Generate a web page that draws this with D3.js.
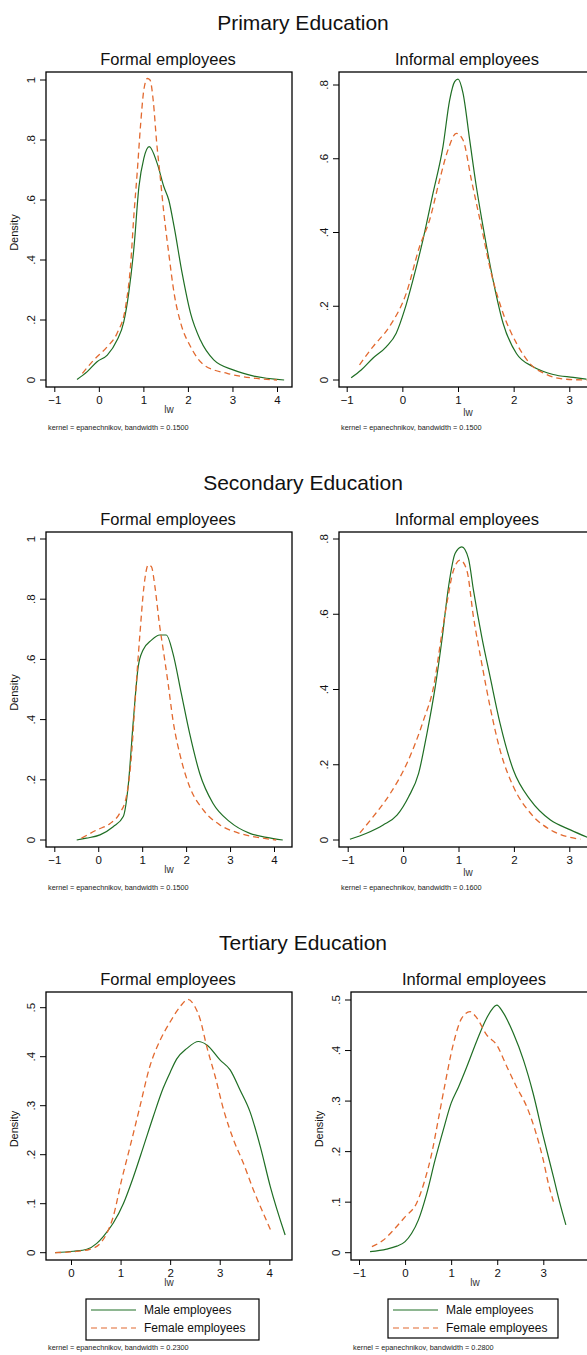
<!DOCTYPE html>
<html><head><meta charset="utf-8">
<script src="https://cdn.jsdelivr.net/npm/d3@7/dist/d3.min.js"></script>
<style>body{margin:0;background:#fff}svg{display:block;font-family:"Liberation Sans",Arial,sans-serif}</style>
</head><body>
<script>
// ---- data (lw, density) ----
const priFormalMale = [[-0.49,0.002],[-0.26,0.028],[-0.04,0.061],[0.19,0.083],[0.41,0.133],[0.56,0.194],[0.67,0.289],[0.79,0.444],[0.9,0.644],[1.01,0.739],[1.13,0.778],[1.31,0.722],[1.46,0.644],[1.57,0.6],[1.69,0.511],[1.87,0.356],[2.06,0.222],[2.28,0.133],[2.58,0.067],[3.03,0.033],[3.48,0.013],[4.16,0.0]];
const priFormalFemale = [[-0.37,0.022],[-0.11,0.067],[0.19,0.111],[0.41,0.156],[0.6,0.244],[0.71,0.378],[0.79,0.556],[0.86,0.689],[0.94,0.856],[1.01,0.967],[1.09,1.005],[1.15,1.0],[1.22,0.933],[1.3,0.789],[1.37,0.689],[1.46,0.556],[1.57,0.422],[1.69,0.289],[1.84,0.189],[2.06,0.111],[2.36,0.05],[2.88,0.022],[3.48,0.006],[4.0,0.0]];
const priInformalMale = [[-0.92,0.006],[-0.74,0.027],[-0.53,0.059],[-0.29,0.09],[-0.11,0.127],[0.04,0.19],[0.19,0.271],[0.37,0.38],[0.55,0.506],[0.73,0.633],[0.85,0.759],[0.94,0.809],[1.0,0.816],[1.09,0.778],[1.21,0.651],[1.33,0.524],[1.45,0.416],[1.63,0.271],[1.81,0.154],[2.05,0.072],[2.35,0.036],[2.71,0.015],[3.07,0.007],[3.31,0.002]];
const priInformalFemale = [[-0.77,0.041],[-0.53,0.09],[-0.23,0.145],[0.07,0.235],[0.31,0.362],[0.49,0.434],[0.67,0.543],[0.82,0.624],[0.97,0.669],[1.09,0.651],[1.24,0.543],[1.42,0.416],[1.57,0.307],[1.81,0.181],[2.05,0.1],[2.29,0.045],[2.59,0.015],[2.95,0.002],[3.31,0.0]];
const secFormalMale = [[-0.49,0.0],[-0.27,0.006],[0.04,0.017],[0.34,0.044],[0.57,0.078],[0.68,0.177],[0.8,0.399],[0.91,0.576],[1.02,0.631],[1.21,0.664],[1.4,0.681],[1.55,0.681],[1.7,0.62],[1.89,0.487],[2.08,0.354],[2.31,0.221],[2.61,0.122],[2.99,0.061],[3.45,0.022],[3.83,0.009],[4.2,0.0]];
const secFormalFemale = [[-0.38,0.006],[-0.04,0.033],[0.27,0.055],[0.49,0.089],[0.64,0.144],[0.76,0.288],[0.83,0.443],[0.95,0.687],[1.04,0.842],[1.14,0.914],[1.21,0.908],[1.29,0.842],[1.39,0.72],[1.48,0.631],[1.59,0.52],[1.7,0.399],[1.89,0.266],[2.08,0.177],[2.39,0.1],[2.77,0.05],[3.22,0.022],[3.75,0.006],[4.05,0.0]];
const secInformalMale = [[-0.96,0.002],[-0.66,0.018],[-0.36,0.04],[-0.11,0.066],[0.1,0.115],[0.28,0.177],[0.43,0.283],[0.58,0.407],[0.7,0.531],[0.82,0.673],[0.94,0.762],[1.06,0.779],[1.18,0.748],[1.27,0.664],[1.42,0.54],[1.57,0.434],[1.75,0.31],[1.99,0.186],[2.3,0.106],[2.66,0.053],[3.02,0.027],[3.33,0.007]];
const secInformalFemale = [[-0.78,0.019],[-0.54,0.062],[-0.23,0.124],[0.07,0.204],[0.37,0.319],[0.55,0.407],[0.7,0.549],[0.79,0.629],[0.91,0.717],[1.03,0.744],[1.15,0.717],[1.27,0.593],[1.42,0.469],[1.57,0.354],[1.75,0.239],[1.99,0.142],[2.3,0.071],[2.66,0.027],[2.96,0.009],[3.2,0.002]];
const terFormalMale = [[-0.32,0.0],[0.05,0.003],[0.32,0.007],[0.52,0.019],[0.65,0.033],[0.85,0.06],[1.06,0.101],[1.26,0.155],[1.46,0.216],[1.66,0.278],[1.86,0.336],[2.0,0.368],[2.13,0.395],[2.34,0.417],[2.57,0.431],[2.74,0.424],[3.01,0.393],[3.21,0.373],[3.41,0.332],[3.61,0.288],[3.82,0.216],[4.02,0.135],[4.32,0.036]];
const terFormalFemale = [[-0.32,0.0],[0.05,0.002],[0.38,0.007],[0.59,0.019],[0.72,0.039],[0.85,0.073],[1.02,0.148],[1.19,0.216],[1.39,0.298],[1.59,0.38],[1.8,0.434],[2.0,0.471],[2.2,0.502],[2.36,0.517],[2.5,0.502],[2.6,0.478],[2.74,0.42],[2.91,0.359],[3.08,0.291],[3.28,0.23],[3.48,0.182],[3.68,0.128],[3.88,0.08],[4.05,0.041]];
const terInformalMale = [[-0.76,0.002],[-0.4,0.007],[-0.18,0.013],[0.0,0.022],[0.14,0.038],[0.29,0.065],[0.47,0.117],[0.65,0.183],[0.83,0.243],[1.0,0.296],[1.16,0.328],[1.34,0.368],[1.56,0.42],[1.77,0.464],[1.99,0.49],[2.13,0.475],[2.35,0.434],[2.57,0.381],[2.78,0.315],[3.0,0.23],[3.22,0.15],[3.36,0.098],[3.49,0.055]];
const terInformalFemale = [[-0.72,0.012],[-0.47,0.025],[-0.25,0.045],[0.0,0.071],[0.25,0.098],[0.43,0.144],[0.58,0.197],[0.72,0.263],[0.87,0.335],[1.05,0.414],[1.23,0.464],[1.41,0.477],[1.56,0.464],[1.77,0.431],[1.99,0.411],[2.21,0.368],[2.42,0.328],[2.64,0.289],[2.82,0.243],[3.0,0.183],[3.11,0.137],[3.22,0.101]];

const sectionTitles = ["Primary Education","Secondary Education","Tertiary Education"];
const panelTitles = ["Formal employees","Informal employees"];
const yTicksPri = [0,0.2,0.4,0.6,0.8,1];
const yTicksInf = [0,0.2,0.4,0.6,0.8];
const yTicksTer = [0,0.1,0.2,0.3,0.4,0.5];
const xTicksA = [-1,0,1,2,3,4];
const xTicksB = [0,1,2,3,4];
const xTicksC = [-1,0,1,2,3];
const bandwidths = ["0.1500","0.1500","0.1500","0.1600","0.2300","0.2800"];
const seriesNames = ["Male employees","Female employees"];

// ---- layout ----
const W = 587, H = 1355;
const GREEN = "#1f6e24", ORANGE = "#e2692f";
const svg = d3.select("body").append("svg").attr("width", W).attr("height", H);

const panels = [
  {title:0, male:priFormalMale, female:priFormalFemale, xd:[-1,4], xr:[54.3,277], yd:[0,1], yr:[380,80], frame:[46,72,292,387], yt:yTicksPri, xt:xTicksA, dens:true, bw:0, lwY:413, fnY:430},
  {title:1, male:priInformalMale, female:priInformalFemale, xd:[-1,3], xr:[346.7,569.3], yd:[0,0.8], yr:[380,85], frame:[339,72,597,387], yt:yTicksInf, xt:xTicksC, dens:false, bw:1, lwY:416, fnY:430},
  {title:0, male:secFormalMale, female:secFormalFemale, xd:[-1,4], xr:[54.3,274], yd:[0,1], yr:[840,539], frame:[46,532,292,847], yt:yTicksPri, xt:xTicksA, dens:true, bw:2, lwY:873, fnY:890},
  {title:1, male:secInformalMale, female:secInformalFemale, xd:[-1,3], xr:[347.7,569.3], yd:[0,0.8], yr:[840,539], frame:[339,532,597,847], yt:yTicksInf, xt:xTicksC, dens:false, bw:3, lwY:876, fnY:890},
  {title:0, male:terFormalMale, female:terFormalFemale, xd:[0,4], xr:[71,269.3], yd:[0,0.5], yr:[1252.7,1007.7], frame:[46,992,292,1260], yt:yTicksTer, xt:xTicksB, dens:true, bw:4, lwY:1286, fnY:1350, legend:[86,1299,259,1340]},
  {title:1, male:terInformalMale, female:terInformalFemale, xd:[-1,3], xr:[359,543.3], yd:[0,0.5], yr:[1252.7,1000], frame:[351,992,599,1260], yt:yTicksTer, xt:xTicksC, dens:true, bw:5, lwY:1286, fnY:1350, legend:[388,1299,558,1338]}
];

// section titles
[30, 490, 950].forEach((y,i) => {
  svg.append("text").attr("x",303).attr("y",y).attr("text-anchor","middle")
    .attr("font-size",21).attr("fill","#111").text(sectionTitles[i]);
});

const fmt = v => v === 0 ? "0" : (v === 1 ? "1" : String(+v.toFixed(2)).replace(/^0/,""));

panels.forEach(p => {
  const [fl,ft,fr,fb] = p.frame;
  const x = d3.scaleLinear().domain(p.xd).range(p.xr);
  const y = d3.scaleLinear().domain(p.yd).range(p.yr);
  const g = svg.append("g");
  // subtitle
  g.append("text").attr("x",(fl+fr)/2 - 1).attr("y",ft-7).attr("text-anchor","middle")
    .attr("font-size",16.5).attr("fill","#111").text(panelTitles[p.title]);
  // curves
  const line = d3.line().x(d=>x(d[0])).y(d=>y(d[1])).curve(d3.curveMonotoneX);
  g.append("path").datum(p.male).attr("d",line).attr("fill","none").attr("stroke",GREEN).attr("stroke-width",1.2);
  g.append("path").datum(p.female).attr("d",line).attr("fill","none").attr("stroke",ORANGE).attr("stroke-width",1.3).attr("stroke-dasharray","6,4");
  // frame
  g.append("rect").attr("x",fl).attr("y",ft).attr("width",fr-fl).attr("height",fb-ft)
    .attr("fill","none").attr("stroke","#000").attr("stroke-width",1.3);
  // y axis
  const ya = g.append("g").attr("transform",`translate(${fl},0)`)
    .call(d3.axisLeft(y).tickValues(p.yt).tickSize(6).tickFormat(fmt));
  ya.select(".domain").remove();
  ya.selectAll("line").attr("stroke","#000").attr("stroke-width",1);
  ya.selectAll(".tick").attr("transform",null);
  ya.selectAll(".tick line").attr("transform",d=>`translate(0,${y(d)})`);
  ya.selectAll(".tick text").attr("font-size",11.5).attr("fill","#111").attr("x",null).attr("y",0).attr("dy",null)
    .attr("text-anchor","middle").attr("dominant-baseline","middle")
    .attr("transform",d=>`translate(-14,${y(d)}) rotate(-90)`);
  // x axis
  const xa = g.append("g").attr("transform",`translate(0,${fb})`)
    .call(d3.axisBottom(x).tickValues(p.xt).tickSize(5).tickFormat(d3.format("d")));
  xa.select(".domain").remove();
  xa.selectAll("line").attr("stroke","#000").attr("stroke-width",1);
  xa.selectAll("text").attr("font-size",11.5).attr("fill","#111").attr("y",9);
  // x label
  g.append("text").attr("x",(fl+fr)/2).attr("y",p.lwY).attr("text-anchor","middle")
    .attr("font-size",10).attr("fill","#333").text("lw");
  // y label
  if (p.dens) {
    const cy = (ft+fb)/2 + 3;
    g.append("text").attr("transform",`translate(${fl-28},${cy}) rotate(-90)`).attr("text-anchor","middle")
      .attr("font-size",11).attr("fill","#111").text("Density");
  }
  // legend
  if (p.legend) {
    const [lx,ly,rx,ry] = p.legend;
    g.append("rect").attr("x",lx).attr("y",ly).attr("width",rx-lx).attr("height",ry-ly)
      .attr("fill","#fff").attr("stroke","#000").attr("stroke-width",1.2);
    [[GREEN,null],[ORANGE,"6,4"]].forEach((s,i) => {
      const yy = ly + 11 + i*18;
      g.append("line").attr("x1",lx+5).attr("x2",lx+50).attr("y1",yy).attr("y2",yy)
        .attr("stroke",s[0]).attr("stroke-width",1.2).attr("stroke-dasharray",s[1]);
      g.append("text").attr("x",lx+58).attr("y",yy+4).attr("font-size",12).attr("fill","#111").text(seriesNames[i]);
    });
  }
  // footnote
  g.append("text").attr("x",fl+2).attr("y",p.fnY).attr("font-size",7.3).attr("fill","#222")
    .text("kernel = epanechnikov, bandwidth = " + bandwidths[p.bw]);
});
</script>
</body></html>
